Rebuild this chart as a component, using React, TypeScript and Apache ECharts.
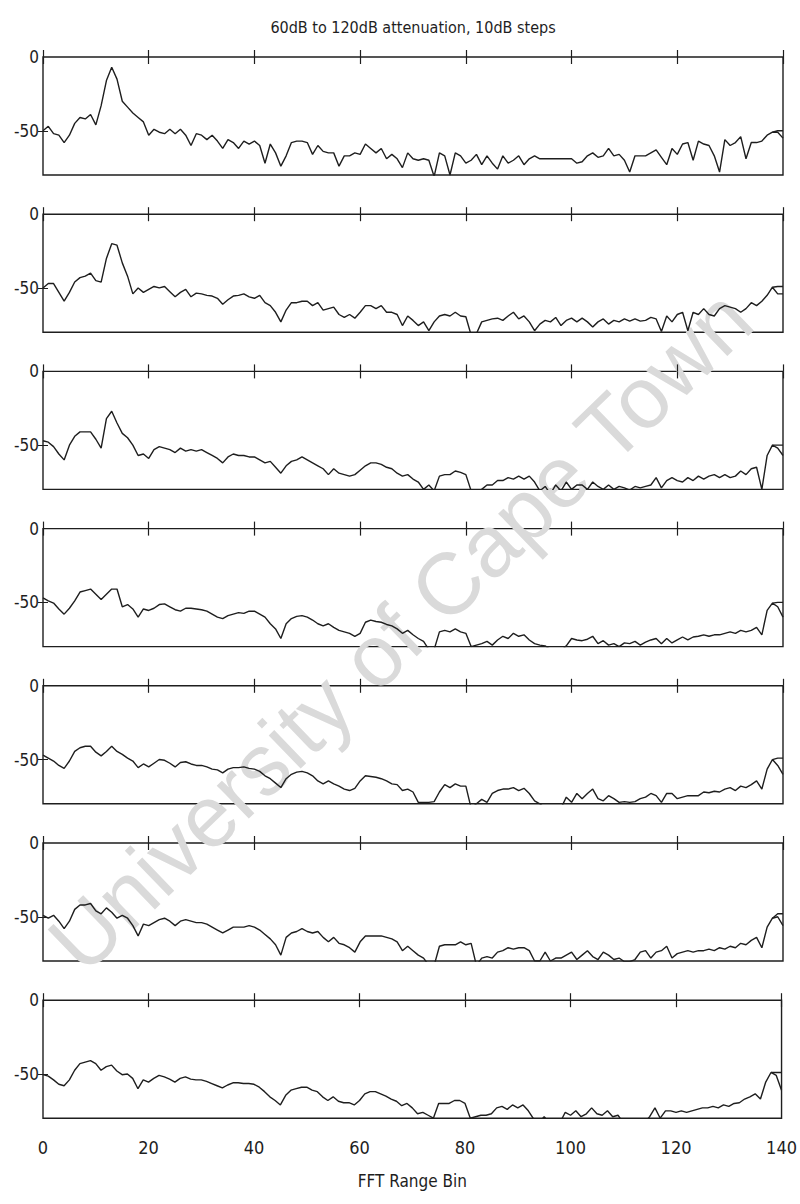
import React, { useEffect, useRef } from "react";
import * as echarts from "echarts";

const TITLE = "60dB to 120dB attenuation, 10dB steps";
const X_NAME = "FFT Range Bin";
const WATERMARK = "University of Cape Town";
const X_MIN = 0;
const X_MAX = 140;
const X_STEP = 20;
const Y_MIN = -80;
const Y_MAX = 0;
const Y_TICKS = [-50, 0];

const att60 = [
  -50, -47, -52, -53, -58, -53, -45, -41, -42, -39,
  -46, -33, -16, -7, -15, -30, -34, -38, -41, -44,
  -53, -49, -51, -52, -49, -52, -49, -53, -60, -52,
  -53, -56, -53, -57, -62, -56, -58, -62, -57, -59,
  -57, -60, -72, -59, -65, -74, -67, -58, -57, -57,
  -58, -66, -60, -64, -65, -65, -74, -67, -67, -65,
  -66, -59, -62, -65, -62, -69, -66, -69, -75, -65,
  -69, -70, -69, -70, -81, -65, -67, -80, -65, -67,
  -72, -70, -66, -73, -67, -72, -76, -67, -72, -70,
  -67, -73, -69, -67, -69, -69, -69, -69, -69, -69,
  -69, -72, -71, -67, -65, -68, -67, -62, -67, -66,
  -70, -78, -67, -67, -67, -65, -63, -68, -73, -62,
  -66, -59, -58, -70, -57, -59, -60, -67, -78, -56,
  -60, -58, -54, -69, -58, -58, -57, -53, -51, -51,
  -55,
];
const att70 = [
  -50, -47, -47, -53, -59, -53, -46, -43, -42, -40,
  -45, -46, -30, -20, -21, -33, -42, -54, -50, -53,
  -51, -49, -50, -49, -52.5, -56, -53, -51, -56, -53.5,
  -54, -55, -55.5, -57, -61, -58, -55.5, -55, -54, -56,
  -57, -55, -60, -62, -66.5, -73, -65, -60, -60, -59,
  -59, -62, -60, -65, -64, -63, -68, -70, -68, -70.5,
  -66.5, -62, -62, -64, -62, -66.5, -66.5, -68, -75.5, -69,
  -72, -75.5, -73, -79, -73, -69, -68, -69, -66.5, -69,
  -69.5, -82, -81, -73, -72, -71, -70.5, -72, -69, -66.5,
  -71, -69, -73, -79, -74.5, -72, -73, -70, -75.5, -72,
  -70.5, -73, -70.5, -73, -76.5, -73, -71, -74.5, -72, -73,
  -71, -72.5, -71, -72.5, -72, -70, -71, -79.5, -69, -73,
  -68, -66.5, -79, -66.5, -68, -64, -68, -69, -64, -62,
  -63, -64, -66.5, -64, -60, -62, -59, -55, -49.5, -54,
  -54,
];
const att80 = [
  -47, -48, -51, -56, -60, -50, -44, -41, -41, -41,
  -46, -52, -32, -27, -35, -42, -45, -50, -57, -56,
  -59, -53, -51, -52, -53, -55, -52, -54, -53, -54,
  -53, -55, -57, -59, -62, -58, -56, -57, -57, -58,
  -58, -60, -62, -61, -65, -69, -64, -61, -60, -58,
  -60, -62, -64, -66, -70, -66, -69, -70, -71, -70,
  -67, -64, -62, -62, -63, -65, -66, -69, -71, -70,
  -73, -75, -80, -77, -81, -71, -70, -70, -67.5, -68.5,
  -70, -81, -83, -80, -77, -77, -74, -74, -72, -73,
  -71, -73, -71, -75, -81, -78, -83, -77, -81, -75,
  -80, -77, -77, -80, -75, -78, -80, -77, -80, -78,
  -79, -80.5, -78, -79, -78, -77, -72, -79, -74, -72,
  -74, -75, -72, -74, -71, -73, -71, -70, -72, -70,
  -72, -71, -67.5, -70, -66, -65, -80, -57, -50, -52,
  -57,
];
const att90 = [
  -47, -49, -50.5, -54.5, -58, -54, -49, -43, -42, -41,
  -44.5, -48, -44.5, -41, -41, -53, -51.5, -54.5, -60, -54.5,
  -55.5, -54, -51.5, -51, -53, -55, -56, -54, -54, -54.5,
  -55, -56, -58, -60, -61, -59, -58, -57, -57.5, -56,
  -56, -58, -60, -64.5, -68, -74.5, -64.5, -61, -59.5, -59,
  -60, -62, -64.5, -66, -64.5, -67, -69, -70, -71, -73,
  -71, -63.5, -62, -63, -63.5, -65, -66, -68, -71, -69,
  -72, -74.5, -76.5, -82, -82, -70, -69, -70, -68, -70,
  -71, -80, -79, -78, -76.5, -79, -75.5, -73, -74.5, -71,
  -73, -72, -75.5, -78, -79, -79.5, -82, -83, -83, -79.5,
  -74.5, -75.5, -76, -75, -73, -78, -76, -79, -78, -80,
  -77.5, -78, -76.5, -79, -77, -75.5, -74.5, -78, -74.5, -77.5,
  -75.5, -73.5, -75.5, -73.5, -73, -72, -73, -72, -72, -71,
  -70, -71, -69, -70, -69, -67, -72, -55.5, -50.5, -53,
  -60,
];
const att100 = [
  -47, -49, -51, -54, -56, -51, -44.5, -42, -41, -41,
  -45, -47.5, -44.5, -41, -44.5, -46.5, -49, -51, -55.5, -53,
  -55, -52.5, -50, -50.5, -52.5, -55, -52, -51.5, -53, -54,
  -54, -55, -56.5, -57, -59, -56.5, -55.5, -55.5, -55, -56,
  -56.5, -58, -61, -63, -66, -69, -63, -60, -58.5, -58,
  -59, -61, -64.5, -66.5, -64.5, -66.5, -68, -70, -71, -69.5,
  -64.5, -61, -61.5, -62, -63, -64.5, -66.5, -67, -71, -70,
  -72, -79, -79, -79, -78.5, -72, -67, -69, -66.5, -68,
  -68, -83, -80, -77, -79, -73, -71, -70, -70, -69,
  -71, -69.5, -73, -78, -80, -83, -82, -83, -83, -75.5,
  -79, -73, -76.5, -73, -70, -76.5, -78, -74.5, -76.5, -79,
  -78.5, -79, -78.5, -76.5, -75.5, -73, -74.5, -79, -73, -73,
  -76.5, -75.5, -74.5, -74.5, -74.5, -72, -72.5, -71.5, -72, -70,
  -69, -71, -68, -69, -67, -64.5, -70, -56.5, -50, -54,
  -60,
];
const att110 = [
  -49, -51, -49, -53, -58, -53, -45, -42, -42, -41,
  -46, -48, -44, -47, -51, -49, -51, -56, -63, -55,
  -56, -54, -52, -51, -53, -56, -53, -52, -53, -54,
  -54, -55, -57, -59, -61, -59, -57, -57, -57, -56,
  -57, -59, -62, -65, -69, -76, -64, -61, -60, -58,
  -60, -61, -60, -64, -67, -64, -68, -69, -71, -74,
  -67, -63, -63, -63, -63, -64, -65, -67, -73, -70,
  -73, -76, -78, -83, -83, -70, -69, -69, -69, -67,
  -69, -68, -83, -78, -77, -78, -74, -73, -71, -72,
  -71, -71, -73, -80, -80, -74, -80, -78, -78, -76,
  -74, -79, -76, -73, -77, -79, -74, -76, -79, -78,
  -80.5, -80.5, -79, -74, -73, -78, -74, -73, -70, -78,
  -75, -74, -73, -74, -73, -73, -72, -73, -71, -72,
  -70, -71, -68, -69, -66, -64, -71, -57, -51, -50,
  -56,
];
const att120 = [
  -50.5, -51.5, -54, -57, -58, -54, -47.5, -43, -42, -41,
  -43, -47.5, -45, -44, -48, -50.5, -50, -53, -60, -54,
  -55.5, -53, -51, -52, -53.5, -55.5, -53, -52, -53.5, -54,
  -54, -55, -56.5, -58, -59.5, -57.5, -56, -56, -56.5, -56.5,
  -57, -59, -62, -65.5, -68, -71, -64.5, -61, -60, -59,
  -59, -61, -62, -65.5, -68, -65.5, -68.5, -69.5, -69.5, -71,
  -68, -63.5, -62, -62, -63.5, -65, -67, -68.5, -71.5, -70,
  -73, -77, -76, -78, -80, -70, -70, -70, -68, -68,
  -70, -80, -79, -78, -78, -77, -73, -72, -74, -71,
  -73, -71, -75, -80.5, -83, -79, -83, -83, -83, -76,
  -78, -75, -79, -77, -73, -77, -78, -75, -79, -78,
  -83, -83, -83, -83, -83, -79, -73, -80, -75, -75,
  -76, -75, -76, -75, -74, -73, -73, -72, -73, -71,
  -72, -70, -69.5, -67, -65.5, -63.5, -67, -55.5, -49, -51,
  -61,
];

// second trace visible at the very end of each panel (bins 138..140)
const TAIL_START = 138;
const tail60 = [-51, -50, -50];
const tail70 = [-49.5, -49, -49];
const tail80 = [-50, -50, -50];
const tail90 = [-50.5, -50, -50];
const tail100 = [-50, -49, -49];
const tail110 = [-51, -48, -48];
const tail120 = [-49, -49, -49];

const PANELS = [att60, att70, att80, att90, att100, att110, att120];
const TAILS = [tail60, tail70, tail80, tail90, tail100, tail110, tail120];

const FONT = "'Liberation Sans Narrow', 'DejaVu Sans Condensed', 'Liberation Sans', Arial, sans-serif";
const INK = "#1e1e1e";

export default function App() {
  const ref = useRef<HTMLDivElement>(null);

  useEffect(() => {
    if (!ref.current) return;
    const chart = echarts.init(ref.current, null, { renderer: "svg" });

    const left = 43;
    const right = 17;
    const firstTop = 57;
    const step = 157.2;
    const h = 118;
    const n = PANELS.length;

    const grids: any[] = [];
    const xAxes: any[] = [];
    const yAxes: any[] = [];
    const series: any[] = [];

    PANELS.forEach((vals, i) => {
      grids.push({
        left,
        right,
        top: firstTop + i * step,
        height: h,
        show: true,
        borderColor: INK,
        borderWidth: 1.4,
        backgroundColor: "transparent",
      });
      const last = i === n - 1;
      xAxes.push({
        type: "value",
        gridIndex: i,
        position: "bottom",
        min: X_MIN,
        max: X_MAX,
        interval: X_STEP,
        axisLine: { show: false },
        axisTick: { show: true, inside: true, length: 7, lineStyle: { color: INK, width: 1.2 } },
        splitLine: { show: false },
        axisLabel: {
          show: last,
          margin: 20,
          color: INK,
          fontSize: 18,
          fontFamily: FONT,
        },
        name: last ? X_NAME : "",
        nameLocation: "middle",
        nameGap: 54,
        nameTextStyle: { color: INK, fontSize: 17, fontFamily: FONT },
      });
      xAxes.push({
        type: "value",
        gridIndex: i,
        position: "top",
        min: X_MIN,
        max: X_MAX,
        interval: X_STEP,
        axisLine: { show: false },
        axisTick: { show: true, inside: true, length: 7, lineStyle: { color: INK, width: 1.2 } },
        splitLine: { show: false },
        axisLabel: { show: false },
      });
      yAxes.push({
        type: "value",
        gridIndex: i,
        position: "left",
        min: Y_MIN,
        max: Y_MAX,
        axisLine: { show: false },
        axisTick: { show: true, inside: true, length: 5, customValues: [-50], lineStyle: { color: INK } },
        splitLine: { show: false },
        axisLabel: {
          customValues: Y_TICKS,
          margin: 4,
          color: INK,
          fontSize: 17,
          fontFamily: FONT,
        },
      });
      yAxes.push({
        type: "value",
        gridIndex: i,
        position: "right",
        min: Y_MIN,
        max: Y_MAX,
        axisLine: { show: false },
        axisTick: { show: true, inside: true, length: 5, customValues: [-50], lineStyle: { color: INK } },
        splitLine: { show: false },
        axisLabel: { show: false },
      });
      series.push({
        type: "line",
        xAxisIndex: i * 2,
        yAxisIndex: i * 2,
        data: vals.map((v, k) => [k, v]),
        showSymbol: false,
        symbol: "none",
        clip: true,
        lineStyle: { color: INK, width: 1.4 },
        z: 3,
      });
      series.push({
        type: "line",
        xAxisIndex: i * 2,
        yAxisIndex: i * 2,
        data: TAILS[i].map((v, k) => [TAIL_START + k, v]),
        showSymbol: false,
        symbol: "none",
        clip: true,
        lineStyle: { color: INK, width: 1.4 },
        z: 3,
      });
    });

    chart.setOption({
      animation: false,
      backgroundColor: "#ffffff",
      grid: grids,
      xAxis: xAxes,
      yAxis: yAxes,
      series,
      graphic: [
        {
          type: "text",
          x: 400,
          y: 630,
          rotation: (44 * Math.PI) / 180,
          z: 0,
          silent: true,
          style: {
            text: WATERMARK,
            fill: "#dadada",
            fontSize: 87,
            fontFamily: "'Liberation Sans', Arial, sans-serif",
            textAlign: "center",
            textVerticalAlign: "middle",
          },
        },
        {
          type: "text",
          x: 413,
          y: 27,
          z: 5,
          style: {
            text: TITLE,
            fill: INK,
            fontSize: 16,
            fontFamily: FONT,
            textAlign: "center",
            textVerticalAlign: "middle",
          },
        },
      ],
    });

    return () => chart.dispose();
  }, []);

  return (
    <div
      ref={ref}
      style={{ position: "absolute", left: 0, top: 0, width: 800, height: 1204 }}
    />
  );
}
